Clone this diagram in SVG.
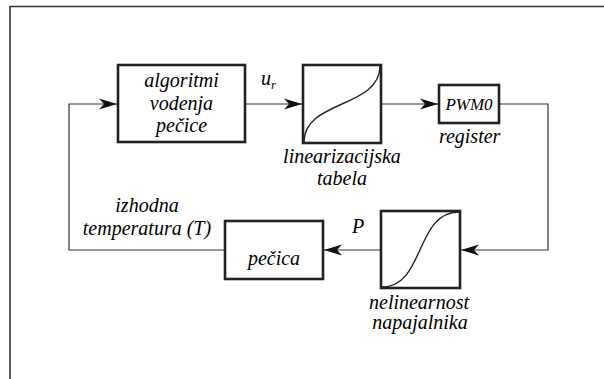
<svg xmlns="http://www.w3.org/2000/svg" width="604" height="379" viewBox="0 0 604 379">
<defs>
<style>
.frame{fill:none;stroke:#333;stroke-width:1.6}
.box{fill:#fff;stroke:#222;stroke-width:2.6}
.conn{fill:none;stroke:#333;stroke-width:1.2}
.curve{fill:none;stroke:#222;stroke-width:1.4}
</style>
<marker id="arr" viewBox="-19 -6 20 12" refX="0" refY="0" markerWidth="20" markerHeight="12" markerUnits="userSpaceOnUse" orient="auto">
<path d="M0,0 L-18,-5.5 L-13,0 L-18,5.5 Z" fill="#111"/>
</marker>
</defs>
<rect width="604" height="379" fill="#fff"/>
<path class="frame" d="M10,379 V6.5 H604"/>
<g id="connectors">
<path class="conn" d="M225,250 H69 V104 H117" marker-end="url(#arr)"/>
<path class="conn" d="M245,104 H302" marker-end="url(#arr)"/>
<path class="conn" d="M381,104 H438" marker-end="url(#arr)"/>
<path class="conn" d="M499,104 H548 V250 H461" marker-end="url(#arr)"/>
<path class="conn" d="M381,250 H324" marker-end="url(#arr)"/>
</g>
<g id="algoritmi">
<rect class="box" x="118" y="65" width="127" height="77"/>
<text x="144.3" y="87" font-family="Liberation Serif" font-style="italic" font-size="20">algoritmi</text>
<text x="149.8" y="110" font-family="Liberation Serif" font-style="italic" font-size="20">vodenja</text>
<text x="156" y="132" font-family="Liberation Serif" font-style="italic" font-size="20">pečice</text>
</g>
<g id="ur-label">
<text x="261" y="85" font-family="Liberation Serif" font-style="italic" font-size="20">u</text>
<text x="271" y="89" font-family="Liberation Serif" font-style="italic" font-size="13">r</text>
</g>
<g id="linearizacija">
<rect class="box" x="303" y="65" width="78" height="78"/>
<path class="curve" d="M304,142 C304,100 380,108 380,66"/>
<text x="283.1" y="163" font-family="Liberation Serif" font-style="italic" font-size="20">linearizacijska</text>
<text x="317" y="185" font-family="Liberation Serif" font-style="italic" font-size="20">tabela</text>
</g>
<g id="pwm0">
<rect class="box" x="439" y="85" width="60" height="38"/>
<text x="445.4" y="110" font-family="Liberation Serif" font-style="italic" font-size="17">PWM0</text>
<text x="438.9" y="143" font-family="Liberation Serif" font-style="italic" font-size="20">register</text>
</g>
<g id="nelinearnost">
<rect class="box" x="381" y="211" width="79" height="77"/>
<path class="curve" d="M382,287 C425,287 415,212 459,212"/>
<text x="369" y="309" font-family="Liberation Serif" font-style="italic" font-size="20">nelinearnost</text>
<text x="372.2" y="329" font-family="Liberation Serif" font-style="italic" font-size="20">napajalnika</text>
</g>
<g id="P-label">
<text x="352" y="233" font-family="Liberation Serif" font-style="italic" font-size="20">P</text>
</g>
<g id="pecica">
<rect class="box" x="225" y="221" width="98" height="58"/>
<text x="247.9" y="265" font-family="Liberation Serif" font-style="italic" font-size="20">pečica</text>
</g>
<g id="izhodna-label">
<text x="115.3" y="212" font-family="Liberation Serif" font-style="italic" font-size="20">izhodna</text>
<text x="82.8" y="235" font-family="Liberation Serif" font-style="italic" font-size="20">temperatura (T)</text>
</g>
</svg>
